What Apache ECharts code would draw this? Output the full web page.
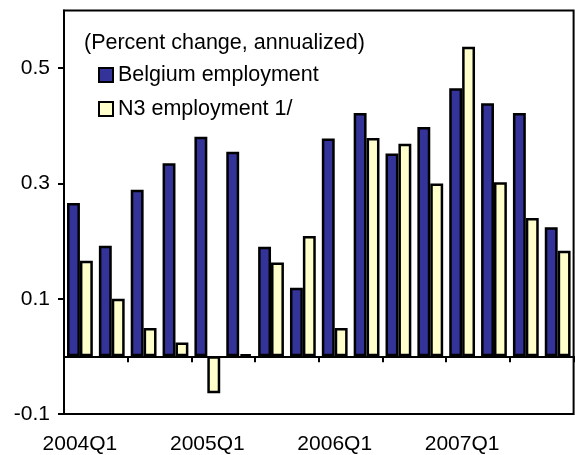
<!DOCTYPE html>
<html>
<head>
<meta charset="utf-8">
<title>Belgium employment</title>
<script src="https://cdn.jsdelivr.net/npm/echarts@6/dist/echarts.min.js"></script>
<style>
	html,body{margin:0;padding:0;background:#fff;}
	#chart{width:575px;height:455px;}
</style>
</head>
<body>
<div id="chart"></div>
<script>
// quarters 2004Q1 - 2007Q4
var quarters = ['2004Q1','2004Q2','2004Q3','2004Q4','2005Q1','2005Q2','2005Q3','2005Q4',
	'2006Q1','2006Q2','2006Q3','2006Q4','2007Q1','2007Q2','2007Q3','2007Q4'];
var belgium = [0.266,0.192,0.289,0.335,0.381,0.355,0.190,0.119,0.378,0.422,0.352,0.398,0.465,0.439,0.422,0.224];
var n3 = [0.166,0.100,0.049,0.024,-0.064,0.004,0.163,0.209,0.049,0.379,0.369,0.300,0.537,0.302,0.240,0.183];
var yTicks = [-0.1,0.1,0.3,0.5];
var seriesNames = ['Belgium employment','N3 employment 1/'];
var noteText = '(Percent change, annualized)';

var font = 'Arial, "Liberation Sans", sans-serif';
var myChart = echarts.init(document.getElementById('chart'));

option = {
	animation: false,
	title: {
		text: noteText,
		left: 79,
		top: 27,
		padding: 5,
		textStyle: {fontFamily: font, fontSize: 21.5, fontWeight: 'normal', color: '#000'}
	},
	legend: {
		data: seriesNames,
		orient: 'vertical',
		left: 93,
		top: 59,
		itemWidth: 14,
		itemHeight: 14,
		itemGap: 12,
		icon: 'rect',
		textStyle: {fontFamily: font, fontSize: 21.5, color: '#000'}
	},
	grid: {
		left: 64,
		right: 1.4,
		top: 10.5,
		bottom: 39.5,
		show: true,
		borderColor: '#000',
		borderWidth: 2
	},
	xAxis: [{
		//零轴和刻度
		type: 'category',
		data: quarters,
		axisLine: {onZero: true, lineStyle: {color: '#000', width: 2}},
		axisTick: {show: true, length: 6, lineStyle: {color: '#000', width: 2}},
		axisLabel: {show: false},
		splitLine: {show: false}
	},{
		//底部标签
		type: 'category',
		data: quarters,
		position: 'bottom',
		axisLine: {show: false, onZero: false},
		axisTick: {show: false},
		axisLabel: {interval: 3, margin: 20, fontFamily: font, fontSize: 21, color: '#000'},
		splitLine: {show: false}
	}],
	yAxis: {
		type: 'value',
		min: -0.1,
		max: 0.6,
		splitLine: {show: false},
		axisLine: {show: true, lineStyle: {color: '#000', width: 2}},
		axisTick: {show: true, length: 6, customValues: yTicks, lineStyle: {color: '#000', width: 2}},
		axisLabel: {
			customValues: yTicks,
			margin: 14,
			fontFamily: font,
			fontSize: 21,
			color: '#000',
			formatter: function(v){ return v.toFixed(1); }
		}
	},
	series: [{
		name: seriesNames[0],
		type: 'bar',
		data: belgium,
		barGap: 0,
		barCategoryGap: '19%',
		itemStyle: {color: '#333399', borderColor: '#000', borderWidth: 2.5}
	},{
		name: seriesNames[1],
		type: 'bar',
		data: n3,
		barGap: 0,
		barCategoryGap: '19%',
		itemStyle: {color: '#FFFFCC', borderColor: '#000', borderWidth: 2.5}
	}]
};
myChart.setOption(option);
</script>
</body>
</html>
